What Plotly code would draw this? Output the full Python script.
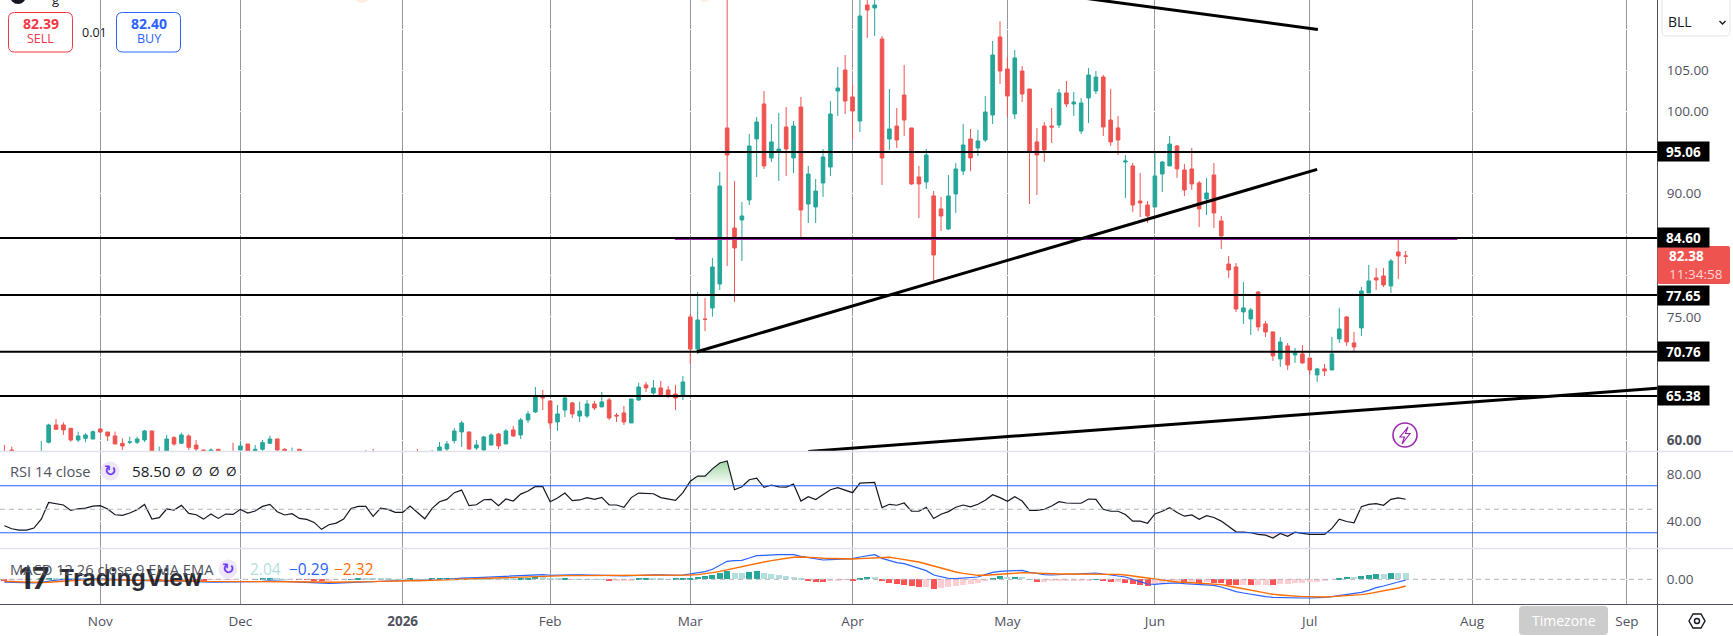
import plotly.graph_objects as go
from plotly.subplots import make_subplots

# --- BLL daily candles, one row per ten sessions -------------------------------
opens = [
    58.5, 58.8, 58.4, 57.8, 58.0, 58.2, 59.74, 61.85, 61.85, 61.44,
    60.02, 60.22, 60.14, 61.36, 60.99, 60.51, 59.62, 59.74, 59.74, 60.02,
    61.12, 58.2, 58.5, 60.3, 59.62, 60.51, 59.41, 58.8, 58.4, 58.89,
    58.5, 58.6, 58.8, 59.53, 58.5, 58.89, 59.62, 60.14, 58.89, 58.3,
    58.89, 58.4, 58.0, 57.6, 57.0, 57.3, 57.5, 57.9, 58.2, 58.4,
    58.3, 57.9, 58.3, 58.2, 58.1, 58.2, 58.4, 58.0, 58.3, 58.6,
    58.93, 59.94, 61.0, 61.0, 59.05, 58.81, 59.42, 60.75, 59.54, 61.24,
    60.63, 62.46, 63.43, 65.3, 64.77, 62.21, 63.67, 64.53, 62.94, 62.94,
    64.4, 64.04, 64.89, 63.03, 63.31, 62.09, 64.89, 66.72, 65.74, 66.35,
    66.11, 65.62, 65.38, 74.99, 71.09, 74.72, 76.08, 79.0, 97.98, 85.81,
    86.79, 89.22, 96.64, 100.9, 94.33, 95.06, 98.1, 94.33, 100.53, 88.73,
    88.37, 91.29, 93.23, 102.48, 105.03, 101.75, 98.83, 112.94, 112.58, 108.81,
    96.64, 98.22, 101.99, 97.98, 92.02, 91.41, 89.71, 88.13, 85.69, 89.95,
    92.75, 96.64, 95.55, 96.52, 99.56, 109.05, 105.16, 99.68, 104.91, 102.72,
    96.28, 98.22, 98.22, 98.34, 102.24, 100.9, 97.61, 101.63, 102.48, 104.18,
    98.95, 97.98, 93.84, 93.36, 89.1, 88.61, 88.37, 92.38, 93.36, 95.79,
    92.87, 92.99, 91.29, 89.34, 92.26, 86.67, 81.43, 81.07, 75.6, 74.75,
    78.03, 74.14, 73.17, 69.88, 71.46, 70.37, 70.49, 70.0, 67.94, 68.67,
    68.54, 72.32, 74.99, 71.83, 73.65, 77.91, 79.74, 79.98, 78.76, 82.9,
    82.41,
]
highs = [
    59.41, 59.21, 58.5, 58.4, 58.5, 59.9, 62.0, 62.58, 62.17, 61.44,
    61.03, 60.83, 61.16, 61.44, 60.99, 61.03, 60.22, 60.43, 60.43, 61.24,
    61.12, 59.21, 60.63, 60.51, 60.91, 60.71, 60.02, 58.85, 59.01, 58.89,
    58.6, 59.7, 59.94, 59.53, 59.41, 60.02, 60.55, 60.2, 59.01, 59.09,
    58.89, 58.5, 58.1, 57.8, 57.5, 57.7, 58.0, 58.4, 58.5, 58.8,
    58.93, 58.5, 58.5, 58.4, 58.4, 58.5, 58.93, 58.5, 58.81, 59.78,
    59.9, 61.48, 62.34, 61.0, 60.03, 60.51, 60.84, 60.88, 61.36, 61.73,
    62.7, 63.55, 66.47, 66.11, 64.77, 64.28, 65.38, 64.65, 64.65, 64.89,
    64.77, 65.86, 65.13, 63.31, 64.16, 65.01, 66.96, 67.08, 67.32, 67.2,
    66.59, 66.72, 67.81, 75.35, 78.03, 77.3, 82.16, 92.63, 116.0, 91.53,
    88.98, 97.25, 99.32, 102.48, 98.47, 99.8, 100.53, 98.83, 101.75, 93.36,
    91.77, 95.42, 101.26, 105.4, 106.86, 103.33, 115.0, 115.0, 114.0, 109.17,
    102.72, 100.41, 105.64, 97.98, 93.36, 95.42, 90.31, 89.58, 92.26, 93.72,
    98.47, 97.86, 97.74, 101.87, 108.56, 110.96, 106.62, 107.47, 105.52, 102.72,
    97.98, 98.71, 100.41, 102.72, 103.7, 102.36, 101.63, 105.28, 104.91, 104.43,
    102.72, 99.44, 94.69, 93.72, 92.5, 89.1, 95.06, 93.96, 97.01, 95.91,
    93.6, 95.55, 91.53, 91.9, 93.72, 87.27, 82.41, 81.56, 79.25, 76.09,
    78.15, 74.5, 73.17, 72.56, 71.83, 71.22, 71.58, 70.0, 68.79, 69.27,
    72.56, 76.09, 75.11, 73.17, 78.64, 81.32, 80.95, 80.95, 82.05, 84.36,
    83.02,
]
lows = [
    58.0, 58.1, 57.5, 57.3, 57.5, 58.0, 59.6, 61.24, 60.63, 59.82,
    59.78, 59.74, 60.1, 60.9, 59.9, 59.53, 58.8, 59.53, 59.53, 59.78,
    58.2, 58.0, 58.4, 59.33, 59.53, 58.8, 58.5, 58.2, 58.3, 58.2,
    57.9, 57.8, 58.5, 58.3, 58.3, 58.7, 59.53, 58.7, 58.3, 58.1,
    58.2, 57.6, 57.3, 56.8, 56.8, 57.0, 57.3, 57.7, 58.0, 57.9,
    57.7, 57.7, 58.0, 57.9, 57.9, 58.0, 57.8, 57.8, 58.1, 58.4,
    58.69, 59.58, 59.17, 58.81, 58.81, 58.69, 59.3, 58.93, 59.54, 60.39,
    60.15, 62.09, 63.31, 63.67, 61.36, 61.12, 62.82, 62.7, 62.21, 62.7,
    63.67, 64.04, 62.46, 62.21, 61.85, 62.09, 64.77, 65.86, 65.5, 65.38,
    65.13, 63.67, 64.89, 69.31, 70.48, 73.28, 75.03, 78.27, 81.19, 76.81,
    81.8, 88.61, 92.02, 92.99, 93.84, 91.53, 92.14, 92.5, 84.6, 86.42,
    86.42, 89.58, 92.14, 99.44, 99.68, 96.52, 97.49, 108.93, 109.17, 91.05,
    95.3, 95.55, 97.01, 91.05, 87.03, 90.56, 79.37, 85.45, 85.57, 87.64,
    92.26, 92.75, 94.57, 96.28, 98.47, 103.33, 99.32, 99.07, 101.14, 88.73,
    89.83, 93.84, 96.15, 97.98, 100.53, 99.44, 97.25, 98.59, 102.11, 97.01,
    95.79, 94.69, 89.46, 87.76, 87.15, 86.42, 88.37, 90.19, 93.36, 91.9,
    89.71, 90.44, 85.93, 87.39, 85.81, 83.26, 79.73, 75.6, 74.14, 72.8,
    73.29, 72.56, 69.64, 68.91, 68.54, 69.4, 69.27, 67.94, 67.08, 67.81,
    68.54, 71.83, 71.46, 70.85, 72.68, 77.91, 78.28, 78.64, 77.91, 79.61,
    81.44,
]
closes = [
    58.2, 58.4, 58.0, 58.2, 58.3, 58.5, 61.85, 61.32, 61.24, 60.02,
    60.51, 60.63, 61.03, 60.99, 60.51, 59.53, 59.29, 59.78, 60.14, 61.12,
    58.4, 58.5, 60.14, 59.53, 60.63, 59.13, 58.93, 58.5, 58.8, 58.5,
    58.2, 58.0, 59.29, 58.5, 58.89, 59.7, 60.14, 58.8, 58.5, 58.6,
    58.4, 58.0, 57.6, 57.0, 57.3, 57.5, 57.9, 58.2, 58.4, 58.1,
    57.9, 58.3, 58.2, 58.1, 58.2, 58.4, 58.0, 58.3, 58.5, 59.17,
    59.54, 61.12, 62.09, 58.93, 59.42, 60.39, 60.63, 59.3, 61.12, 60.51,
    62.46, 63.19, 65.3, 65.13, 62.09, 63.19, 65.13, 63.19, 63.55, 64.4,
    63.92, 64.65, 62.7, 62.94, 62.21, 65.01, 66.47, 66.35, 66.35, 65.5,
    65.38, 65.13, 67.08, 71.09, 74.62, 74.7, 81.07, 90.92, 94.69, 83.38,
    87.27, 95.79, 98.71, 93.36, 96.28, 95.42, 95.42, 98.22, 88.0, 92.38,
    90.31, 94.45, 99.68, 102.84, 101.26, 100.05, 111.6, 112.33, 112.94, 94.33,
    97.86, 96.52, 98.95, 91.17, 91.17, 94.69, 82.53, 87.27, 89.71, 92.99,
    95.91, 94.33, 96.4, 99.92, 106.86, 104.91, 101.87, 106.49, 102.11, 95.06,
    94.69, 95.3, 98.1, 102.24, 100.9, 101.14, 101.02, 104.43, 104.18, 98.1,
    96.28, 96.52, 93.96, 88.61, 88.86, 87.27, 92.14, 93.84, 96.03, 93.0,
    90.44, 91.17, 88.13, 90.07, 87.64, 84.84, 80.7, 75.96, 76.09, 75.84,
    73.78, 73.17, 70.25, 71.95, 69.15, 70.61, 69.4, 68.54, 68.67, 68.42,
    70.49, 73.53, 71.95, 71.34, 78.15, 79.37, 79.49, 78.88, 81.8, 82.41,
    82.38,
]

# --- RSI(14) per session -------------------------------------------------------
rsi = [
    36.0, 33.4, 32.3, 32.3, 34.0, 41.6, 55.8, 54.7, 53.6, 49.0,
    50.4, 51.0, 52.7, 53.0, 50.2, 45.3, 44.8, 46.8, 49.6, 54.1,
    41.6, 42.8, 50.2, 49.3, 53.3, 46.5, 45.3, 41.6, 45.9, 42.2,
    45.9, 45.6, 49.9, 46.8, 48.5, 52.4, 54.1, 47.9, 45.1, 46.2,
    42.2, 41.4, 38.8, 32.9, 36.8, 38.2, 41.6, 50.7, 52.4, 52.4,
    43.9, 51.0, 49.9, 47.3, 47.3, 52.7, 47.6, 41.9, 50.7, 56.4,
    58.4, 64.1, 66.3, 53.0, 53.8, 58.1, 58.4, 53.0, 58.7, 57.0,
    62.9, 65.5, 69.4, 69.2, 56.4, 59.5, 63.8, 57.3, 57.9, 59.9,
    58.4, 60.1, 53.6, 53.6, 51.7, 59.9, 63.8, 63.8, 63.2, 59.9,
    58.7, 57.6, 64.1, 73.9, 78.2, 78.2, 84.4, 89.4, 91.1, 66.6,
    69.1, 75.1, 76.5, 68.6, 70.6, 69.1, 68.9, 71.4, 57.0, 60.7,
    58.2, 62.7, 66.6, 68.3, 66.3, 64.1, 72.2, 72.5, 72.8, 51.4,
    54.2, 53.4, 55.3, 48.3, 48.3, 51.7, 42.1, 45.8, 48.0, 51.7,
    53.6, 52.0, 54.2, 57.6, 62.4, 59.9, 56.8, 60.7, 57.0, 49.1,
    49.1, 50.0, 52.8, 56.5, 55.3, 55.1, 55.1, 58.7, 58.4, 50.0,
    48.3, 48.3, 45.5, 39.9, 39.9, 38.1, 46.0, 48.3, 51.4, 47.2,
    44.1, 45.2, 41.5, 44.6, 43.0, 39.9, 35.4, 30.8, 30.5, 30.0,
    28.6, 28.0, 25.5, 29.4, 26.9, 30.5, 29.4, 28.6, 28.6, 28.6,
    33.7, 41.5, 39.6, 38.5, 52.2, 54.2, 54.8, 53.4, 58.4, 59.6,
    58.5,
]

# --- MACD(12, 26, 9) per session -----------------------------------------------
macd_line = [
    -1.0, -1.1, -1.2, -1.2, -1.2, -1.0, -0.6, -0.3, -0.1, -0.1,
    0.0, 0.1, 0.2, 0.2, 0.1, 0.0, -0.2, -0.3, -0.4, -0.3,
    -0.6, -0.7, -0.6, -0.6, -0.5, -0.6, -0.8, -1.0, -1.0, -1.0,
    -1.0, -1.0, -0.9, -0.9, -0.8, -0.7, -0.5, -0.6, -0.7, -0.8,
    -0.9, -1.0, -1.2, -1.4, -1.4, -1.3, -1.2, -1.0, -0.8, -0.7,
    -0.7, -0.6, -0.5, -0.5, -0.5, -0.4, -0.4, -0.4, -0.3, -0.2,
    0.0, 0.2, 0.4, 0.6, 0.6, 0.7, 0.8, 0.9, 1.0, 1.1,
    1.2, 1.3, 1.5, 1.6, 1.4, 1.5, 1.61, 1.5, 1.5, 1.5,
    1.5, 1.5, 1.4, 1.3, 1.15, 1.3, 1.45, 1.5, 1.55, 1.5,
    1.4, 1.4, 1.49, 1.84, 2.18, 2.64, 3.45, 4.71, 6.21, 6.44,
    6.55, 7.36, 8.16, 8.28, 8.51, 8.51, 8.51, 8.51, 7.93, 7.47,
    6.9, 6.67, 6.78, 6.9, 7.13, 7.13, 7.7, 8.16, 8.51, 7.24,
    6.44, 5.75, 5.4, 4.6, 3.68, 2.99, 1.49, 0.8, 0.34, 0.23,
    0.34, 0.57, 0.8, 1.61, 2.41, 2.76, 2.76, 2.99, 3.1, 2.41,
    2.07, 1.61, 1.49, 1.61, 1.72, 1.72, 1.84, 1.95, 2.18, 1.84,
    1.38, 1.15, 0.8, 0.11, -0.8, -1.61, -1.72, -1.49, -1.26, -1.26,
    -1.49, -1.61, -1.84, -1.84, -2.07, -2.64, -3.56, -4.25, -4.71, -5.17,
    -5.63, -5.98, -6.21, -6.32, -6.44, -6.44, -6.44, -6.44, -6.44, -6.21,
    -5.98, -5.63, -5.29, -4.94, -4.48, -3.79, -2.87, -2.3, -1.72, -0.92,
    -0.29,
]
signal_line = [
    -0.7, -0.8, -0.9, -1.0, -1.1, -1.1, -1.0, -0.8, -0.6, -0.4,
    -0.3, -0.2, -0.1, -0.1, -0.1, -0.1, -0.1, -0.2, -0.3, -0.3,
    -0.4, -0.4, -0.5, -0.5, -0.5, -0.5, -0.6, -0.7, -0.7, -0.8,
    -0.8, -0.8, -0.8, -0.8, -0.8, -0.8, -0.7, -0.7, -0.7, -0.7,
    -0.7, -0.8, -0.8, -0.9, -1.0, -1.0, -1.0, -1.0, -0.9, -0.9,
    -0.8, -0.7, -0.6, -0.6, -0.5, -0.5, -0.5, -0.4, -0.4, -0.3,
    -0.2, -0.1, 0.0, 0.1, 0.2, 0.3, 0.4, 0.5, 0.6, 0.7,
    0.8, 0.9, 1.0, 1.1, 1.1, 1.2, 1.26, 1.26, 1.26, 1.26,
    1.26, 1.26, 1.26, 1.26, 1.26, 1.26, 1.26, 1.26, 1.26, 1.26,
    1.26, 1.26, 1.26, 1.49, 1.61, 1.84, 2.3, 2.76, 3.33, 3.79,
    4.25, 4.83, 5.4, 5.98, 6.44, 6.9, 7.13, 7.59, 7.7, 7.7,
    7.47, 7.24, 7.13, 7.01, 7.01, 7.01, 7.13, 7.24, 7.36, 7.47,
    7.59, 7.24, 6.9, 6.44, 5.98, 5.29, 4.6, 3.91, 3.1, 2.53,
    2.07, 1.72, 1.38, 1.38, 1.49, 1.72, 1.95, 2.07, 2.3, 2.18,
    2.18, 2.07, 1.95, 1.84, 1.84, 1.84, 1.84, 1.84, 1.95, 1.95,
    1.84, 1.72, 1.49, 1.15, 0.69, 0.23, -0.11, -0.34, -0.69, -0.92,
    -1.03, -1.15, -1.38, -1.38, -1.61, -1.84, -2.3, -2.76, -3.22, -3.91,
    -4.37, -4.83, -5.17, -5.4, -5.63, -5.75, -5.98, -5.98, -6.09, -6.09,
    -5.98, -5.86, -5.75, -5.52, -5.29, -4.94, -4.48, -4.02, -3.56, -2.99,
    -2.32,
]
macd_hist = [
    -0.3, -0.3, -0.2, -0.1, 0.0, 0.3, 0.6, 0.5, 0.4, 0.2,
    0.2, 0.2, 0.2, 0.2, 0.1, -0.1, -0.2, -0.2, -0.1, 0.1,
    -0.2, -0.3, -0.2, -0.1, 0.0, -0.1, -0.2, -0.3, -0.2, -0.2,
    -0.1, -0.1, 0.0, 0.0, 0.1, 0.2, 0.3, 0.2, 0.1, 0.0,
    -0.1, -0.2, -0.3, -0.4, -0.3, -0.2, -0.1, 0.1, 0.2, 0.2,
    0.2, 0.2, 0.2, 0.1, 0.1, 0.2, 0.1, 0.0, 0.2, 0.3,
    0.4, 0.5, 0.6, 0.4, 0.4, 0.4, 0.3, 0.3, 0.3, 0.3,
    0.4, 0.5, 0.7, 0.7, 0.4, 0.3, 0.5, 0.1, 0.1, 0.1,
    0.1, 0.1, -0.5, -0.5, -0.5, -0.3, 0.2, 0.25, 0.2, 0.15,
    0.1, 0.15, 0.3, 0.6, 0.8, 1.0, 1.5, 2.2, 2.9, 2.3,
    2.3, 2.4, 2.7, 2.2, 1.7, 1.4, 1.1, 0.7, 0.2, -0.6,
    -0.8, -0.9, -0.7, -0.3, -0.1, -0.5, 0.6, 0.8, 0.8, -0.4,
    -1.2, -1.5, -1.9, -2.2, -2.7, -2.6, -3.3, -3.1, -2.8, -2.3,
    -2.0, -1.6, -1.2, -0.6, 0.4, 1.0, 0.8, 0.95, 0.7, 0.1,
    -0.8, -0.8, -0.7, -0.5, -0.5, -0.4, -0.4, -0.4, 0.1, -0.5,
    -0.8, -0.8, -1.2, -1.7, -2.0, -2.2, -1.6, -1.1, -0.9, -0.7,
    -1.2, -1.0, -1.2, -1.0, -1.2, -1.4, -1.8, -1.9, -1.9, -2.0,
    -2.0, -1.9, -2.0, -1.6, -1.5, -1.2, -1.1, -0.9, -0.8, -0.5,
    0.0, 0.5, 0.8, 0.8, 1.1, 1.4, 1.9, 1.9, 2.3, 2.3,
    2.04,
]

# --- Axis labels and drawn levels ----------------------------------------------
month_ticks = [13, 32, 54, 74, 93, 115, 136, 156, 177, 199, 220]
month_labels = ["Nov", "Dec", "<b>2026</b>", "Feb", "Mar", "Apr", "May", "Jun", "Jul", "Aug", "Sep"]
price_ticks = [60, 65, 70, 75, 80, 85, 90, 95, 100, 105, 110]
price_labels = ["<b>60.00</b>", "", "", "75.00", "", "", "90.00", "", "100.00", "105.00", ""]
levels = [95.06, 84.60, 77.65, 70.76, 65.38]
resistance_band = 84.48
last_price = 82.38

PLOT_W, PLOT_H = 1657, 604
FONT = "Open Sans"
GREY = "#50535e"
UP, DOWN = "#26a69a", "#ef5350"
BLUE, ORANGE, PURPLE = "#2962ff", "#ff6d00", "#9c27b0"


def px(x):
    return x / PLOT_W


def py(y):
    return 1 - y / PLOT_H


def clipped(values, level, above):
    """Split a series at a level so the part beyond it can be shaded."""
    xs, ys = [], []
    side = (lambda v: v > level) if above else (lambda v: v < level)
    for i, v in enumerate(values):
        if i and side(v) != side(values[i - 1]):
            prev = values[i - 1]
            xs.append(i - 1 + (level - prev) / (v - prev))
            ys.append(level)
        xs.append(i)
        ys.append(v if side(v) else level)
    return xs, ys


def regions_below(values, level):
    """Closed outlines of each stretch where a series dips under a level."""
    xs, ys = clipped(values, level, False)
    out_x, out_y, run = [], [], []
    for x, y in zip(xs, ys):
        if y < level:
            run.append((x, y))
        elif run:
            first, last = run[0][0] - 0.5, run[-1][0] + 0.5
            out_x += [first] + [p[0] for p in run] + [last, None]
            out_y += [level] + [p[1] for p in run] + [level, None]
            run = []
    return out_x, out_y


def hist_colour(i):
    value = macd_hist[i]
    prev = macd_hist[i - 1] if i else 0
    if value >= 0:
        return UP if value > prev else "#b2dfdb"
    return "#ff5252" if value < prev else "#ffcdd2"


sessions = list(range(len(closes)))

fig = make_subplots(rows=3, cols=1, shared_xaxes=True, vertical_spacing=0,
                    row_heights=[451 / 604, 97 / 604, 56 / 604])

fig.add_trace(go.Candlestick(
    x=sessions, open=opens, high=highs, low=lows, close=closes,
    whiskerwidth=0,
    increasing=dict(line=dict(color=UP, width=1), fillcolor=UP),
    decreasing=dict(line=dict(color=DOWN, width=1), fillcolor=DOWN),
), row=1, col=1)

# RSI shading: a green fade above the 70 band, a pale red wash below the 30 band
xs, ys = clipped(rsi, 70, True)
fig.add_trace(go.Scatter(x=xs, y=[70] * len(xs), mode="lines", line=dict(width=0),
                         hoverinfo="skip"), row=2, col=1)
fig.add_trace(go.Scatter(
    x=xs, y=ys, mode="lines", line=dict(width=0), fill="tonexty", hoverinfo="skip",
    fillgradient=dict(type="vertical", start=70, stop=92,
                      colorscale=[[0, "rgba(76,175,80,0)"], [1, "rgba(76,175,80,0.55)"]]),
), row=2, col=1)
xs, ys = regions_below(rsi, 30)
fig.add_trace(go.Scatter(x=xs, y=ys, mode="lines", line=dict(width=0), fill="toself",
                         fillcolor="rgba(255,82,82,0.15)", hoverinfo="skip"), row=2, col=1)
fig.add_trace(go.Scatter(x=sessions, y=rsi, mode="lines",
                         line=dict(color="#131722", width=1.2)), row=2, col=1)

fig.add_trace(go.Bar(x=sessions, y=macd_hist, width=0.82,
                     marker=dict(color=[hist_colour(i) for i in sessions], line=dict(width=0))),
              row=3, col=1)
fig.add_trace(go.Scatter(x=sessions, y=macd_line, mode="lines",
                         line=dict(color=BLUE, width=1.2)), row=3, col=1)
fig.add_trace(go.Scatter(x=sessions, y=signal_line, mode="lines",
                         line=dict(color=ORANGE, width=1.4)), row=3, col=1)

fig.update_xaxes(range=[-0.597, 224.08], tickmode="array", tickvals=month_ticks, ticktext=month_labels,
                 showgrid=True, gridcolor="#9598a1", gridwidth=1, zeroline=False, ticks="",
                 rangeslider_visible=False, showline=False,
                 tickfont=dict(family=FONT, size=13.5, color=GREY))
fig.update_xaxes(ticklabelstandoff=7, row=3, col=1)
fig.update_yaxes(side="right", zeroline=False, gridcolor="#ffffff", gridwidth=1, ticks="",
                 showline=True, linecolor=GREY, linewidth=1, ticklabelstandoff=6,
                 tickfont=dict(family=FONT, size=13.5, color=GREY))
fig.update_yaxes(range=[58.68, 113.55], tickmode="array", tickvals=price_ticks, ticktext=price_labels, row=1, col=1)
fig.update_yaxes(range=[17.02, 99.57], tickmode="array", tickvals=[40, 80], ticktext=["40.00", "80.00"], row=2, col=1)
fig.update_yaxes(range=[-8.51, 10.8], tickmode="array", tickvals=[0], ticktext=["0.00"], row=3, col=1)

shapes = []


def line(x0, y0, x1, y1, color, width, xref="paper", yref="paper", dash=None):
    shapes.append(dict(type="line", x0=x0, y0=y0, x1=x1, y1=y1, xref=xref, yref=yref,
                       layer="above", line=dict(color=color, width=width, dash=dash)))


def rect(x0, y0, x1, y1, fill=None, border=None, width=1, radius=0):
    """Rounded rectangle given in page pixels."""
    r = radius
    rx, ry = r / PLOT_W, r / PLOT_H
    a, b, c, d = px(x0), py(y0), px(x1), py(y1)
    path = (f"M {a + rx} {b} L {c - rx} {b} Q {c} {b} {c} {b - ry} L {c} {d + ry} Q {c} {d} {c - rx} {d} "
            f"L {a + rx} {d} Q {a} {d} {a} {d + ry} L {a} {b - ry} Q {a} {b} {a + rx} {b} Z")
    shapes.append(dict(type="path", path=path, xref="paper", yref="paper", layer="above",
                       fillcolor=fill or "rgba(0,0,0,0)",
                       line=dict(color=border or "rgba(0,0,0,0)", width=width)))


def circle(cx, cy, r, fill=None, border=None, width=1):
    shapes.append(dict(type="circle", xref="paper", yref="paper", layer="above",
                       x0=px(cx - r), x1=px(cx + r), y0=py(cy + r), y1=py(cy - r),
                       fillcolor=fill or "rgba(0,0,0,0)",
                       line=dict(color=border or "rgba(0,0,0,0)", width=width)))


def poly(points, fill=None, border=None, width=1, closed=True):
    path = "M " + " L ".join(f"{px(x)} {py(y)}" for x, y in points) + (" Z" if closed else "")
    shapes.append(dict(type="path", path=path, xref="paper", yref="paper", layer="above",
                       fillcolor=fill or "rgba(0,0,0,0)",
                       line=dict(color=border or "rgba(0,0,0,0)", width=width)))


# Purple band first so the black levels sit on top of it
line(90.9, resistance_band, 197.0, resistance_band, PURPLE, 2, "x", "y")
for level in levels:
    line(0, level, 1, level, "#000000", 2, "paper", "y")
line(93.9, 70.76, 178.0, 92.95, "#000000", 3, "x", "y")
line(140.0, 114.55, 178.1, 109.96, "#000000", 3, "x", "y")
line(109.0, 58.63, 224.08, 66.31, "#000000", 3, "x", "y")

# RSI bands and zero lines
line(0, 70, 1, 70, BLUE, 1, "paper", "y2")
line(0, 30, 1, 30, BLUE, 1, "paper", "y2")
line(0, 50, px(1652), 50, "#b2b5be", 1, "paper", "y2", "5px,4px")
line(0, 0, px(1652), 0, "#b2b5be", 1, "paper", "y3", "5px,4px")

# Pane separators and chart frame
line(0, py(451.5), px(1733), py(451.5), "#e0e3eb", 1.5)
line(0, py(548.5), px(1733), py(548.5), "#e0e3eb", 1.5)
line(0, py(604.5), px(1733), py(604.5), GREY, 1)
line(px(1657.5), py(604), px(1657.5), py(636), GREY, 1)

# Order ticket boxes and symbol picker
rect(8.5, 12.5, 72.5, 52, border="#f23645", radius=6)
rect(116.5, 12.5, 180.5, 52, border=BLUE, radius=6)
rect(1662, -4, 1730, 36, fill="#ffffff", border="#e0e3eb", radius=5)
poly([(1719.5, 21), (1722.5, 24), (1725.5, 21)], border="#131722", width=1.3, closed=False)

# Symbol logo and event bubbles poking in from above the pane
circle(18, -4, 8, fill="#131722")
circle(362, -6, 9, fill="#fdeee3")
circle(705, -6, 8, fill="#fdeee3")

# Earnings-style lightning marker
circle(1405, 435, 12, border=PURPLE, width=1.6)
poly([(1408, 427), (1400, 437), (1404.5, 437), (1402, 444), (1410, 433.5), (1405.5, 433.5)], border=PURPLE, width=1.2)

# Legend refresh badges
circle(110, 471, 9.5, fill="#ede7f6")
circle(228, 569, 9.5, fill="#ede7f6")

# Settings gear, timezone pill and the last-price flag behind its text
poly([(1689, 621), (1693, 614), (1701, 614), (1705, 621), (1701, 628), (1693, 628)], border="#131722", width=1.4)
circle(1697, 621, 2.5, border="#131722", width=1.4)
rect(1519, 606, 1608, 635, fill="#cccccc", radius=4)
rect(1657.5, 246, 1730, 284, fill=DOWN, radius=2)

annotations = []


def label(x, y, text, size=13.5, color=GREY, anchor="left", family=FONT, opacity=1):
    annotations.append(dict(x=px(x), y=py(y), xref="paper", yref="paper", text=text, showarrow=False,
                            xanchor=anchor, yanchor="middle", opacity=opacity,
                            font=dict(family=family, size=size, color=color)))


# Watermark across the MACD pane, under its legend
label(17, 578, "<b>17</b>", 30, "#131722", family="Inter", opacity=0.9)
label(57, 578, "<b>TradingView</b>", 23.2, "#131722", family="Inter", opacity=0.9)

label(40.5, 24, "<b>82.39</b>", 14, "#f23645", "center")
label(40.5, 39, "SELL", 12.5, "#f23645", "center")
label(148.5, 24, "<b>82.40</b>", 14, BLUE, "center")
label(148.5, 39, "BUY", 12.5, BLUE, "center")
label(94, 32, "0.01", 12.5, "#131722", "center")
label(1666, 22, "BLL", 14, "#131722")
label(55, -1, "g", 13, "#131722", "center")

label(8, 471, "RSI 14 close", 14.7)
label(110, 470.5, "<b>↻</b>", 15, "#6f3bf5", "center", "DejaVu Sans")
label(129.5, 471, f"{rsi[-1]:.2f}", 15.2, "#131722")
for x in [180, 197, 214, 231]:
    label(x, 471, "Ø", 13.5, "#131722", "center")

label(8, 569, "MACD 12 26 close 9 EMA EMA", 14.7)
label(228, 568.5, "<b>↻</b>", 15, "#6f3bf5", "center", "DejaVu Sans")
label(248, 569, f"{macd_hist[-1]:.2f}", 15.5, "#b2dfdb")
label(287, 569, f"−{abs(macd_line[-1]):.2f}", 15.5, BLUE)
label(332, 569, f"−{abs(signal_line[-1]):.2f}", 15.5, ORANGE)

label(1563.5, 620, "Timezone", 14, "#ffffff", "center")

# Price tags on the right-hand scale, anchored to their levels
for level in levels:
    annotations.append(dict(x=1, y=level, xref="paper", yref="y", xanchor="left", yanchor="middle",
                            text=f"<b>{level:.2f}</b>", showarrow=False, bgcolor="#000000",
                            width=51, height=19, borderpad=0,
                            font=dict(family=FONT, size=13.5, color="#ffffff")))
annotations.append(dict(x=1, y=last_price, xref="paper", yref="y", xanchor="left", yanchor="middle", xshift=10,
                        text=f"<b>{last_price:.2f}</b>", showarrow=False,
                        font=dict(family=FONT, size=13.5, color="#ffffff")))
annotations.append(dict(x=1, y=last_price, xref="paper", yref="y", xanchor="left", yanchor="middle",
                        xshift=10, yshift=-18, text="11:34:58", showarrow=False,
                        font=dict(family=FONT, size=13.5, color="#ffd5d3")))

fig.update_layout(
    width=1733, height=636, autosize=False, showlegend=False,
    margin=dict(l=0, r=1733 - PLOT_W, t=0, b=636 - PLOT_H, pad=0),
    paper_bgcolor="#ffffff", plot_bgcolor="#ffffff",
    bargap=0, shapes=shapes, annotations=annotations,
)

assert len({len(opens), len(highs), len(lows), len(closes), len(rsi),
            len(macd_line), len(signal_line), len(macd_hist)}) == 1

fig.write_html("out.html", config={"displayModeBar": False})
